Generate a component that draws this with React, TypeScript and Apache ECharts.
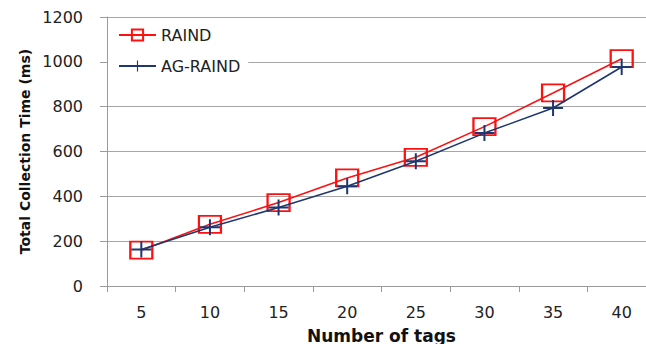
import React, { useEffect, useRef } from "react";
import * as echarts from "echarts";

const categories = ["5", "10", "15", "20", "25", "30", "35", "40"];
const raind = [160, 275, 372, 482, 574, 711, 861, 1014];
const agRaind = [163, 262, 350, 445, 557, 682, 794, 977];

const FONT = "DejaVu Sans";

export default function App() {
  const ref = useRef<HTMLDivElement>(null);
  useEffect(() => {
    const el = ref.current!;
    const chart = echarts.init(el, null, { renderer: "svg" });
    const plus = `path://M0,7H20V9H0Z M9,0H11V16H9Z`;
    chart.setOption({
      animation: false,
      backgroundColor: "#ffffff",
      grid: {
        left: 107,
        top: 17,
        width: 549,
        height: 269,
        containLabel: false,
        outerBoundsMode: "none",
      },
      legend: {
        orient: "vertical",
        left: 108,
        top: 22,
        padding: [5, 8, 5, 10],
        backgroundColor: "#ffffff",
        itemWidth: 37,
        itemHeight: 14,
        itemGap: 15,
        textStyle: { fontFamily: FONT, fontSize: 16, color: "#222" },
        data: ["RAIND", "AG-RAIND"],
      },
      xAxis: {
        type: "category",
        data: categories,
        name: "Number of tags",
        nameLocation: "middle",
        nameGap: 41,
        nameMoveOverlap: false,
        nameTextStyle: { fontFamily: FONT, fontSize: 17, fontWeight: "bold", color: "#111" },
        axisLine: { lineStyle: { color: "#9a9a9a", width: 1 } },
        axisTick: { show: true, length: 6, lineStyle: { color: "#9a9a9a" } },
        axisLabel: { fontFamily: FONT, fontSize: 16, color: "#222", margin: 18 },
      },
      yAxis: {
        type: "value",
        min: 0,
        max: 1200,
        interval: 200,
        name: "Total Collection Time (ms)",
        nameLocation: "middle",
        nameGap: 75,
        nameMoveOverlap: false,
        nameTextStyle: { fontFamily: FONT, fontSize: 14, fontWeight: "bold", color: "#111" },
        axisLine: { show: true, lineStyle: { color: "#9a9a9a", width: 1 } },
        axisTick: { show: true, length: 7, lineStyle: { color: "#9a9a9a" } },
        axisLabel: {
          fontFamily: FONT,
          fontSize: 16,
          color: "#222",
          margin: 24,
          formatter: (v: number) => String(v),
        },
        splitLine: { lineStyle: { color: "#a6a6a6", width: 1 } },
      },
      series: [
        {
          name: "RAIND",
          type: "line",
          data: raind,
          symbol: "rect",
          symbolSize: [22, 17],
          lineStyle: { color: "#ff1010", width: 1.6 },
          itemStyle: { color: "rgba(255,255,255,0)", borderColor: "#ff1010", borderWidth: 2 },
          z: 2,
        },
        {
          name: "AG-RAIND",
          type: "line",
          data: agRaind,
          symbol: plus,
          symbolSize: [20, 16],
          lineStyle: { color: "#1f3670", width: 1.6 },
          itemStyle: { color: "#1f3670" },
          z: 3,
        },
      ],
    });
    return () => chart.dispose();
  }, []);
  return (
    <div
      ref={ref}
      style={{ position: "fixed", left: 0, top: 0, width: "100vw", height: "100vh", overflow: "hidden" }}
    />
  );
}
